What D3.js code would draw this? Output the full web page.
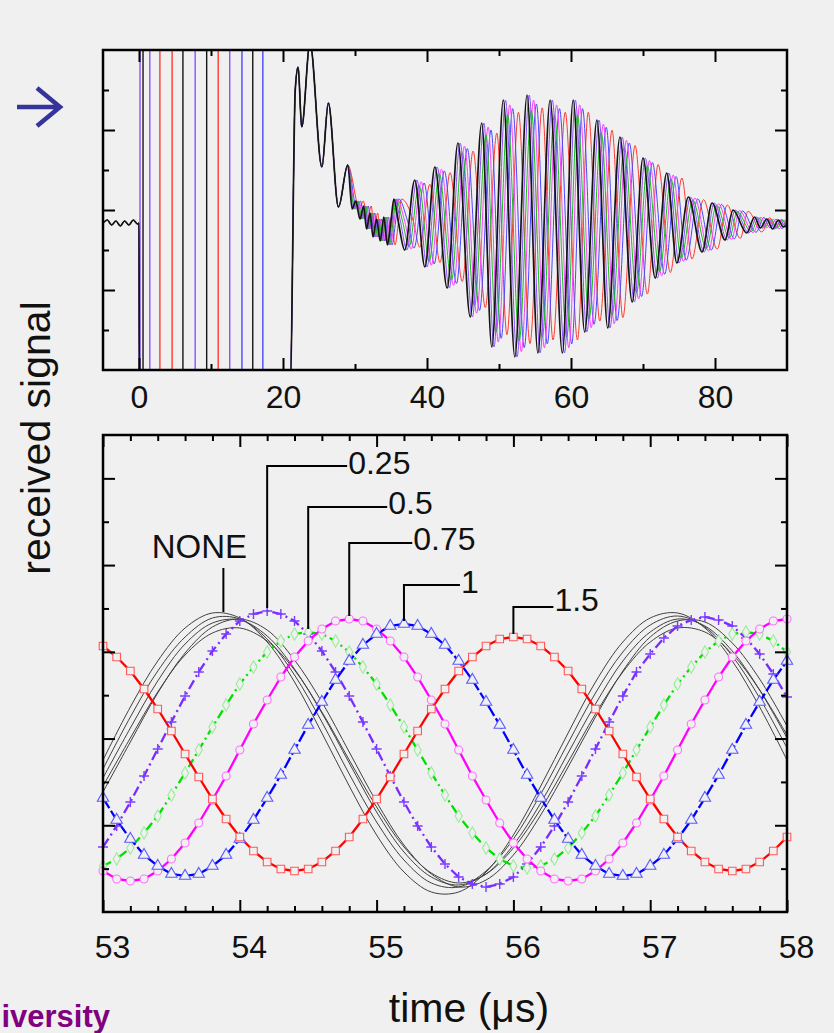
<!DOCTYPE html>
<html>
<head>
<meta charset="utf-8">
<script src="https://cdnjs.cloudflare.com/ajax/libs/d3/7.8.5/d3.min.js"></script>
<style>
  html, body { margin: 0; padding: 0; background: #f0f0f0; }
  svg { display: block; font-family: "Liberation Sans", Arial, Helvetica, sans-serif; }
</style>
</head>
<body>
<div id="chart"></div>
<script>
var width = 834,
    height = 1033,
    bg = "#f0f0f0",
    left = 103, right = 787,   // both panels share the same frame width
    top1 = 50, bot1 = 370,     // upper panel
    top2 = 435, bot2 = 912;    // lower panel

// ---------- upper panel : whole received trace (time in us) ----------
var preT = [-5, -4.4, -3.8, -3.2, -2.6, -2.0, -1.4, -0.8, -0.2, 0, 0.05];
var preV = [0, 3, -2, 2, -3, 2, -2, 3, -1, 0, -160];
var echoT = [21.0, 21.7, 22.1, 22.6, 23.75, 25.4, 26.3, 27.7, 29.0, 29.6, 30.1, 30.7, 31.2, 31.6, 32.1, 32.5, 33.0, 33.5, 34.0, 34.5, 35.0, 35.4];
var echoV = [-160, 133, 156, 96, 180, 56, 120, 16, 58, 14, 22, 4, 17, -6, 10, -14, 4, -18, 6, -22, 2, 24];
// extrema of the wave packet (black trace)
var packetT = [36.0, 36.9, 38.3, 39.7, 41.1, 42.8, 44.3, 46.0, 47.6, 49.0, 50.6, 52.2, 53.9, 55.4, 57.1, 58.8, 60.3, 61.9, 63.6, 65.1, 66.8,
               68.5, 70.0, 71.7, 73.3, 74.7, 76.3, 78.2, 79.6, 81.4, 82.5, 84.4, 85.5, 86.3, 87.2, 88.0, 88.8, 89.5, 90.5];
var packetV = [2, -27, 43, -44, 56, -65, 80, -94, 100, -124, 123, -134, 128, -130, 123, -130, 123, -109, 103, -105, 86,
               -79, 65, -55, 50, -40, 26, -29, 20, -17, 13, -10, 6, -5, 4, -6, 3, -4, 2];
var traceNames = ["red", "blue", "magenta", "green", "purple"];
var traceDelay = [2.1, 1.3, 0.9, 0.6, 0.3];
var traceGain = [0.9, 0.93, 0.96, 0.88, 1.0];
// saturated burst at the start
var spikeT = [0.14, 0.56, 1.5, 2.9, 4.6, 6.1, 7.8, 9.4, 11.0, 12.6, 14.3, 15.8, 17.2];
var spikeTrace = ["purple", "black", "purple", "red", "red", "black", "purple", "black", "red", "purple", "blue", "black", "blue"];
var topTicks = [0, 20, 40, 60, 80],
    topMinor = [10, 30, 50, 70];

// ---------- lower panel : zoom 53..58 us ----------
var bottomTicks = [53, 54, 55, 56, 57, 58];
var noneLabel = "NONE",
    nonePeakT = 53.88;
// five undelayed traces, sampled every 0.2 us
var none1 = [-10, 43, 89, 122, 137, 132, 108, 68, 17, -36, -85, -122, -142, -142, -122, -85, -36, 17, 68, 108, 132, 137, 122, 89, 43, -10];
var none2 = [-19, 33, 79, 113, 132, 131, 111, 75, 28, -24, -72, -110, -133, -137, -121, -89, -44, 7, 57, 98, 125, 134, 123, 94, 52, 2];
var none3 = [-28, 22, 69, 106, 127, 130, 114, 81, 37, -13, -62, -102, -127, -135, -124, -95, -53, -3, 46, 89, 118, 131, 124, 99, 60, 12];
var none4 = [-36, 12, 58, 95, 117, 122, 109, 80, 38, -10, -57, -97, -123, -133, -124, -98, -59, -12, 36, 78, 108, 122, 118, 96, 60, 15];
var none5 = [-42, 8, 57, 97, 123, 131, 120, 90, 48, -2, -52, -95, -124, -137, -130, -105, -65, -17, 33, 79, 113, 129, 128, 107, 71, 24];
// delayed traces, one marker every 0.1 us
var seriesNames = ["0.25", "0.5", "0.75", "1", "1.5"];
var seriesPeakT = [54.2, 54.5, 54.8, 55.2, 56.0];
var s025 = [-97, -76, -52, -26, 1, 28, 54, 78, 99, 116, 129, 136, 139, 136, 129, 116, 99, 78, 54, 28, 1, -26, -52, -76, -97, -114,
            -127, -134, -137, -134, -127, -114, -97, -76, -52, -26, 1, 28, 54, 78, 96, 112, 124, 130, 133, 130, 124, 112, 96, 76, 53];
var s050 = [-116, -109, -98, -83, -66, -45, -23, 0, 23, 45, 66, 83, 98, 109, 116, 118, 116, 109, 98, 83, 66, 45, 23, 0, -23, -45,
            -66, -83, -98, -109, -116, -118, -116, -109, -98, -83, -66, -45, -23, 0, 23, 45, 66, 83, 98, 109, 116, 118, 116, 109, 98];
var s075 = [-121, -129, -131, -129, -121, -109, -93, -73, -50, -26, 0, 26, 50, 73, 93, 109, 121, 129, 131, 129, 121, 109, 93, 73, 50, 26,
            0, -26, -50, -73, -93, -109, -121, -129, -131, -129, -121, -109, -93, -73, -50, -26, 0, 26, 50, 73, 93, 109, 121, 129, 131];
var s100 = [-48, -70, -89, -105, -116, -124, -126, -124, -116, -105, -89, -70, -48, -25, 0, 25, 48, 70, 89, 105, 116, 124, 126, 124, 116, 105,
            89, 70, 48, 25, 0, -25, -48, -70, -89, -105, -116, -124, -126, -124, -116, -105, -89, -70, -48, -25, 0, 25, 48, 70, 89];
var s150 = [104, 93, 79, 61, 41, 19, -4, -27, -49, -69, -87, -101, -112, -119, -121, -119, -112, -101, -87, -69, -49, -27, -4, 19, 41, 61,
            79, 93, 104, 111, 113, 111, 104, 93, 79, 61, 41, 19, -4, -27, -49, -69, -87, -101, -112, -119, -121, -119, -112, -101, -87];

var noneCurves = [none1, none2, none3, none4, none5],
    series = [s025, s050, s075, s100, s150];
var tSample = d3.range(51).map(function (i) { return 53 + i / 10; }),
    tBlack = d3.range(26).map(function (i) { return 53 + i / 5; });

// ---------- styles ----------
var topColor = { black: "#151515", purple: "#8c50ff", green: "#14c014", magenta: "#ff40ff", blue: "#4848ff", red: "#ff3a30" };
var seriesStyle = [
    { color: "#7a2cff", dash: "10,4,2,4", mark: "plus", markColor: "#7a3cff" },
    { color: "#00e000", dash: "9,4,2,4", mark: "diamond", markColor: "#98ec98" },
    { color: "#ff00ff", dash: null, mark: "circle", markColor: "#ff70ff" },
    { color: "#0000ff", dash: "12,3", mark: "triangle", markColor: "#5a5aff" },
    { color: "#ff0000", dash: null, mark: "square", markColor: "#ff5a5a" }
];
// leader lines (px): how far up from the peak, how far right to the text
var labelRise = [142, 122, 73, 36, 27],
    labelRun = [80, 79, 63, 56, 40],
    labelDy = [8, 7, 7, 8, 4];

var svg = d3.select("#chart").append("svg")
    .attr("width", width)
    .attr("height", height);
svg.append("rect").attr("width", width).attr("height", height).attr("fill", bg);

var xTop = d3.scaleLinear().domain([-5, 90]).range([left, right]),
    yTop = d3.scaleLinear().domain([-147, 173]).range([bot1, top1]),
    xBot = d3.scaleLinear().domain([53, 58]).range([left, right]),
    yBot = d3.scaleLinear().domain([-162, 315]).range([bot2, top2]);

function evenTicks(scale, n) {
    var d = scale.domain();
    return d3.range(1, n).map(function (k) { return d[0] + k * (d[1] - d[0]) / n; });
}

// axes on all four sides, ticks pointing in
function frame(x, y, major, minor, yTicks, pad, dx) {
    var g = svg.append("g"),
        y0 = y.range()[1], y1 = y.range()[0];
    var yMajor = yTicks.filter(function (d, i) { return i % 2 == 1; }),
        yMinor = yTicks.filter(function (d, i) { return i % 2 == 0; });

    g.append("g").attr("transform", "translate(0," + y1 + ")")
        .call(d3.axisBottom(x).tickValues(minor).tickSize(-6).tickFormat(""));
    var lab = g.append("g").attr("transform", "translate(0," + y1 + ")")
        .call(d3.axisBottom(x).tickValues(major).tickSize(-12).tickPadding(pad).tickFormat(d3.format("d")));
    g.append("g").attr("transform", "translate(0," + y0 + ")")
        .call(d3.axisTop(x).tickValues(minor).tickSize(-6).tickFormat(""));
    g.append("g").attr("transform", "translate(0," + y0 + ")")
        .call(d3.axisTop(x).tickValues(major).tickSize(-12).tickFormat(""));
    [[d3.axisLeft, left], [d3.axisRight, right]].forEach(function (a) {
        g.append("g").attr("transform", "translate(" + a[1] + ",0)")
            .call(a[0](y).tickValues(yMajor).tickSize(-12).tickFormat(""));
        g.append("g").attr("transform", "translate(" + a[1] + ",0)")
            .call(a[0](y).tickValues(yMinor).tickSize(-6).tickFormat(""));
    });

    g.selectAll(".domain").remove();
    g.selectAll(".tick line").attr("stroke", "#000").attr("stroke-width", 2);
    lab.selectAll("text")
        .attr("font-size", 32)
        .attr("font-family", "'Liberation Sans', Arial, sans-serif")
        .attr("fill", "#111")
        .attr("dx", dx);
    g.append("rect")
        .attr("x", left).attr("y", y0)
        .attr("width", right - left).attr("height", y1 - y0)
        .attr("fill", "none").attr("stroke", "#000").attr("stroke-width", 2.5);
}

// ---------- upper panel ----------
svg.append("clipPath").attr("id", "clipTop")
    .append("rect").attr("x", left).attr("y", top1).attr("width", right - left).attr("height", bot1 - top1);
var gTop = svg.append("g").attr("clip-path", "url(#clipTop)");

var topLine = d3.line()
    .x(function (d) { return xTop(d[0]); })
    .y(function (d) { return yTop(d[1]); })
    .curve(d3.curveMonotoneX);

// the delay only shows once the echo has died down (t > 29 us)
function traceData(delay, gain) {
    var pts = preT.map(function (t, i) { return [t, preV[i]]; })
        .concat(echoT.map(function (t, i) { return t > 29 ? [t + delay * 0.5, echoV[i]] : [t, echoV[i]]; }));
    return pts.concat(packetT.map(function (t, i) { return [t + delay, packetV[i] * gain]; }));
}

gTop.selectAll("line.spike")
    .data(spikeT)
    .enter().append("line")
    .attr("class", "spike")
    .attr("x1", function (d) { return xTop(d); })
    .attr("x2", function (d) { return xTop(d); })
    .attr("y1", yTop(yTop.domain()[0]))
    .attr("y2", yTop(yTop.domain()[1]))
    .attr("stroke", function (d, i) { return topColor[spikeTrace[i]]; })
    .attr("stroke-width", 1.4);

traceNames.forEach(function (name, i) {
    gTop.append("path")
        .attr("d", topLine(traceData(traceDelay[i], traceGain[i])))
        .attr("fill", "none")
        .attr("stroke", topColor[name])
        .attr("stroke-width", 1);
});
gTop.append("path")
    .attr("d", topLine(traceData(0, 1)))
    .attr("fill", "none")
    .attr("stroke", topColor.black)
    .attr("stroke-width", 1.7);

frame(xTop, yTop, topTicks, topMinor, evenTicks(yTop, 8), 15, 0);

// ---------- lower panel ----------
var gBot = svg.append("g");

var blackLine = d3.line()
    .x(function (d, i) { return xBot(tBlack[i]); })
    .y(function (d) { return yBot(d); })
    .curve(d3.curveCatmullRom);
var seriesLine = d3.line()
    .x(function (d, i) { return xBot(tSample[i]); })
    .y(function (d) { return yBot(d); });

gBot.selectAll("path.none")
    .data(noneCurves)
    .enter().append("path")
    .attr("class", "none")
    .attr("d", blackLine)
    .attr("fill", "none")
    .attr("stroke", "#404040")
    .attr("stroke-width", 1);

var symbols = {
    square: d3.symbol().type(d3.symbolSquare).size(58)(),
    circle: d3.symbol().type(d3.symbolCircle).size(50)(),
    triangle: d3.symbol().type(d3.symbolTriangle).size(56)(),
    diamond: d3.symbol().type(d3.symbolDiamond).size(44)(),
    plus: "M-5,0H5M0,-5V5"
};

series.forEach(function (vals, s) {
    var st = seriesStyle[s];
    gBot.append("path")
        .attr("d", seriesLine(vals))
        .attr("fill", "none")
        .attr("stroke", st.color)
        .attr("stroke-width", 2.3)
        .attr("stroke-dasharray", st.dash);
});
series.forEach(function (vals, s) {
    var st = seriesStyle[s];
    gBot.selectAll("path.m" + s)
        .data(vals)
        .enter().append("path")
        .attr("class", "m" + s)
        .attr("transform", function (d, i) { return "translate(" + xBot(tSample[i]) + "," + yBot(d) + ")"; })
        .attr("d", symbols[st.mark])
        .attr("fill", st.mark == "plus" ? "none" : bg)
        .attr("stroke", st.markColor)
        .attr("stroke-width", st.mark == "plus" ? 1.4 : 1.1);
});

frame(xBot, yBot, bottomTicks, d3.range(53.2, 58, 0.2).filter(function (d) { return Math.abs(d - Math.round(d)) > 0.01; }),
      evenTicks(yBot, 11), 23, 9);

// leader lines and labels
var gLab = svg.append("g").attr("font-size", 32).attr("fill", "#111");
var nx = xBot(nonePeakT),
    ny = yBot(d3.max(none1)) - 1;
gLab.append("path")
    .attr("d", "M" + nx + "," + ny + "V" + (ny - 44))
    .attr("stroke", "#000").attr("stroke-width", 2).attr("fill", "none");
gLab.append("text")
    .attr("x", nx - 24).attr("y", ny - 54)
    .attr("text-anchor", "middle")
    .attr("font-size", 33)
    .text(noneLabel);

series.forEach(function (vals, s) {
    var ax = xBot(seriesPeakT[s]),
        ay = yBot(d3.max(vals)) - 3,
        ey = ay - labelRise[s];
    gLab.append("path")
        .attr("d", "M" + ax + "," + ay + "V" + ey + "H" + (ax + labelRun[s]))
        .attr("stroke", "#000").attr("stroke-width", 2).attr("fill", "none");
    gLab.append("text")
        .attr("x", ax + labelRun[s] + 1)
        .attr("y", ey + labelDy[s])
        .text(seriesNames[s]);
});

// ---------- titles and slide leftovers ----------
svg.append("text")
    .attr("transform", "translate(50,438) rotate(-90)")
    .attr("text-anchor", "middle")
    .attr("font-size", 41)
    .attr("fill", "#111")
    .text("received signal");

svg.append("text")
    .attr("x", 469).attr("y", 1022)
    .attr("text-anchor", "middle")
    .attr("font-size", 41)
    .attr("fill", "#111")
    .text("time (\u03bcs)");

svg.append("path")
    .attr("d", "M17,107H59M37,88L60,107L37,126")
    .attr("fill", "none")
    .attr("stroke", "#34349a")
    .attr("stroke-width", 4.5);

// only the tail of the slide footer shows in the picture
svg.append("text")
    .attr("x", 110).attr("y", 1027)
    .attr("text-anchor", "end")
    .attr("font-size", 31)
    .attr("font-weight", "bold")
    .attr("fill", "#800080")
    .text("iversity");
</script>
</body>
</html>
